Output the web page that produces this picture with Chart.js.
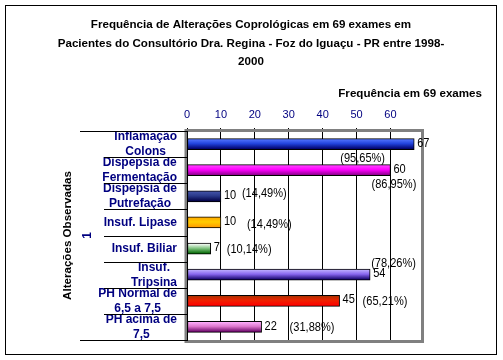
<!DOCTYPE html>
<html>
<head>
<meta charset="utf-8">
<script src="https://cdn.jsdelivr.net/npm/chart.js@4.4.1/dist/chart.umd.min.js"></script>
<style>
    html, body { margin: 0; padding: 0; background: #fff; }
    #box { position: relative; width: 503px; height: 360px; }
</style>
</head>
<body>
<div id="box"><canvas id="myChart"></canvas></div>
<script>
const tituloLinhas = [
    'Frequência de Alterações Coprológicas em 69 exames em',
    'Pacientes do Consultório Dra. Regina - Foz do Iguaçu - PR entre 1998-',
    '2000'
];
const categorias = [
    ['Inflamação', 'Colons'],
    ['Dispepsia de', 'Fermentação'],
    ['Dispepsia de', 'Putrefação'],
    ['Insuf. Lipase'],
    ['Insuf. Biliar'],
    ['Insuf.', 'Tripsina'],
    ['PH Normal de', '6,5 a 7,5'],
    ['PH acima de', '7,5']
];
const frequencias = [67, 60, 10, 10, 7, 54, 45, 22];
const percentuais = ['(95,65%)', '(86,95%)', '(14,49%)', '(14,49%)', '(10,14%)', '(78,26%)', '(65,21%)', '(31,88%)'];
const ticksX = [0, 10, 20, 30, 40, 50, 60];
const tituloX = 'Frequência em 69 exames';
const tituloY = 'Alterações Observadas';
const serieNome = '1';

// where each percentage label sits, relative to the bar end / bar centre
const pctOffsets = [[-74, 14], [-19, 14], [21, -3], [26, 2], [16, 1], [1, -11], [23, 1], [28, 0]];

// gradient stops per bar: top, middle, bottom
const coresBarras = [
    ['#5577ff', '#2244dd', '#000066'],
    ['#ff44ff', '#ff00ff', '#880088'],
    ['#4455aa', '#2a3a8a', '#000044'],
    ['#ffaa00', '#ffcc00', '#ff9900'],
    ['#ffffff', '#88c888', '#006600'],
    ['#c0b0ff', '#8866ee', '#110066'],
    ['#aa3300', '#ee2200', '#ff0000'],
    ['#ffb0ff', '#dd77cc', '#660066']
];

const NAVY = '#000080';
const FONT = 'Liberation Sans, Arial, sans-serif';

function barGradient (context) {
    const chart = context.chart;
    const cores = coresBarras[context.dataIndex];
    const yScale = chart.scales.y;
    if (!chart.chartArea || !yScale) {
        return cores[1];
    }
    const yc = yScale.getPixelForValue(context.dataIndex);
    const g = chart.ctx.createLinearGradient(0, yc - 5, 0, yc + 5);
    g.addColorStop(0, cores[0]);
    g.addColorStop(0.45, cores[1]);
    g.addColorStop(1, cores[2]);
    return g;
}

// condensed text: squeeze horizontally, like the old narrow screen font
function fillNarrow (ctx, text, x, y, squeeze) {
    ctx.save();
    ctx.translate(x, y);
    ctx.scale(squeeze, 1);
    ctx.fillText(text, 0, 0);
    ctx.restore();
}

const extras = {
    id: 'extras',
    afterDatasetsDraw (chart) {
        const ctx = chart.ctx;
        const a = chart.chartArea;
        const meta = chart.getDatasetMeta(0);
        ctx.save();

        // plot frame
        ctx.strokeStyle = '#808080';
        ctx.lineWidth = 3;
        ctx.strokeRect(a.left - 1, a.top - 0.5, a.right - a.left + 2.5, a.bottom - a.top + 2);
        ctx.strokeStyle = '#000';
        ctx.lineWidth = 1;
        ctx.beginPath();
        ctx.moveTo(a.left + 0.5, a.top);
        ctx.lineTo(a.left + 0.5, a.bottom + 1);
        ctx.stroke();

        // values and percentages
        ctx.fillStyle = '#000';
        ctx.font = '13px ' + FONT;
        ctx.textBaseline = 'middle';
        ctx.textAlign = 'left';
        meta.data.forEach((bar, i) => {
            fillNarrow(ctx, String(frequencias[i]), bar.x + 3, bar.y - 1, 0.85);
            const off = pctOffsets[i];
            fillNarrow(ctx, percentuais[i], bar.x + off[0], bar.y + off[1], 0.85);
        });

        // category labels
        const yScale = chart.scales.y;
        ctx.font = 'bold 12px ' + FONT;
        ctx.fillStyle = NAVY;
        ctx.textAlign = 'center';
        categorias.forEach((linhas, i) => {
            const yc = yScale.getPixelForValue(i);
            const w = Math.max(...linhas.map(t => ctx.measureText(t).width));
            const xc = a.left - 10 - w / 2;
            linhas.forEach((t, j) => {
                ctx.fillText(t, xc, yc + (j - (linhas.length - 1) / 2) * 15);
            });
        });

        // separators between categories
        const band = (a.bottom - a.top) / categorias.length;
        ctx.strokeStyle = '#000';
        ctx.beginPath();
        for (let i = 0; i <= categorias.length; i++) {
            const y = Math.round(a.top + i * band) + 0.5;
            const x0 = (i === 0 || i === categorias.length) ? 80 : 104;
            ctx.moveTo(x0, y);
            ctx.lineTo(a.left, y);
        }
        ctx.stroke();

        // titles
        ctx.fillStyle = '#000';
        ctx.font = 'bold 11.6px ' + FONT;
        ctx.textAlign = 'center';
        tituloLinhas.forEach((t, i) => ctx.fillText(t, 251, 25 + i * 18.5));
        ctx.textAlign = 'right';
        ctx.fillText(tituloX, 482, 94);

        const ym = (a.top + a.bottom) / 2;
        ctx.save();
        ctx.translate(68, ym);
        ctx.rotate(-Math.PI / 2);
        ctx.textAlign = 'center';
        ctx.fillText(tituloY, 0, 0);
        ctx.restore();
        ctx.save();
        ctx.translate(88, ym);
        ctx.rotate(-Math.PI / 2);
        ctx.textAlign = 'center';
        ctx.fillStyle = NAVY;
        ctx.font = 'bold 12px ' + FONT;
        ctx.fillText(serieNome, 0, 0);
        ctx.restore();

        // outer border
        ctx.strokeStyle = '#000';
        ctx.strokeRect(5.5, 5.5, 491, 349);
        ctx.restore();
    }
};

const data = {
    labels: categorias,
    datasets: [{
        label: serieNome,
        data: frequencias,
        backgroundColor: barGradient,
        borderColor: '#000',
        borderWidth: 1,
        borderSkipped: false,
        barThickness: 11
    }]
};

const config = {
    type: 'bar',
    data,
    options: {
        indexAxis: 'y',
        responsive: false,
        animation: false,
        devicePixelRatio: 1,
        layout: { padding: { top: 109, left: 187, right: 82, bottom: 20 } },
        plugins: {
            legend: { display: false },
            tooltip: { enabled: false }
        },
        scales: {
            x: {
                position: 'top',
                min: 0,
                max: 69,
                afterBuildTicks: scale => {
                    scale.ticks = ticksX.map(v => ({ value: v }));
                },
                afterFit: scale => { scale.height = 22; },
                grid: { color: '#000', lineWidth: 1, tickLength: 3, drawTicks: true },
                border: { display: false },
                ticks: { color: NAVY, font: { family: FONT, size: 11 }, padding: 6, maxRotation: 0 }
            },
            y: {
                display: false
            }
        }
    },
    plugins: [extras]
};

const canvas = document.getElementById('myChart');
canvas.width = 503;
canvas.height = 360;
var myChart = new Chart(canvas, config);
</script>
</body>
</html>
